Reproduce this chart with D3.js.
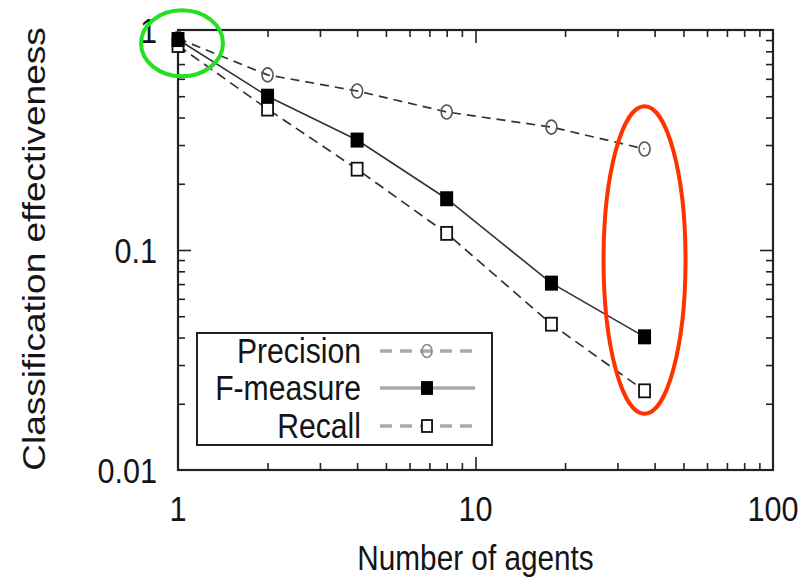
<!DOCTYPE html>
<html><head><meta charset="utf-8">
<script src="https://cdn.jsdelivr.net/npm/d3@7"></script>
<style>html,body{margin:0;padding:0;background:#fff;}svg{display:block;}</style>
</head><body>
<svg id="c" width="805" height="585"></svg>
<script>
const agents = [1, 2, 4, 8, 18, 37];
const precision = [0.915, 0.625, 0.528, 0.424, 0.362, 0.288];
const fmeasure = [0.905, 0.50, 0.316, 0.171, 0.0707, 0.0403];
const recall = [0.85, 0.437, 0.233, 0.119, 0.046, 0.0229];
const seriesNames = ["Precision", "F-measure", "Recall"];
const xTickValues = [1, 10, 100];
const xTickLabels = ["1", "10", "100"];
const yTickValues = [0.01, 0.1, 1];
const yTickLabels = ["0.01", "0.1", "1"];
const xTitle = "Number of agents";
const yTitle = "Classification effectiveness";

const svg = d3.select("#c");
const L = 178, R = 773, T = 30, B = 470;
const x = d3.scaleLog().domain([1, 100]).range([L, R]);
const y = d3.scaleLog().domain([0.01, 1]).range([B, T]);
const SX = 0.85, FONT = "Liberation Sans, Arial, Helvetica, sans-serif";

function txt(g, px, py, s, size, anchor, rot) {
  return g.append("text")
    .attr("transform", `translate(${px},${py})` + (rot ? ` rotate(${rot})` : "") + (rot ? ` scale(1,${SX})` : ` scale(${SX},1)`))
    .attr("text-anchor", anchor).attr("font-family", FONT).attr("font-size", size)
    .attr("fill", "#151515").text(s);
}

// ticks
const xMinor = x.ticks().filter(v => !xTickValues.includes(v));
const yMinor = y.ticks().filter(v => !yTickValues.includes(v));
const xMajorIn = xTickValues.filter(v => v > 1 && v < 100);
const yMajorIn = yTickValues.filter(v => v > 0.01 && v < 1);
function ax(gen, scale, vals, size, tr) {
  const g = svg.append("g").attr("transform", tr)
    .call(gen(scale).tickValues(vals).tickSize(-size).tickSizeOuter(0).tickFormat(""));
  g.select(".domain").remove();
  g.selectAll("line").attr("stroke", "#222").attr("stroke-width", 1.6);
}
ax(d3.axisBottom, x, xMinor, 7, `translate(0,${B})`);
ax(d3.axisBottom, x, xMajorIn, 13, `translate(0,${B})`);
ax(d3.axisTop, x, xMinor, 7, `translate(0,${T})`);
ax(d3.axisTop, x, xMajorIn, 13, `translate(0,${T})`);
ax(d3.axisLeft, y, yMinor, 7, `translate(${L},0)`);
ax(d3.axisLeft, y, yMajorIn, 13, `translate(${L},0)`);
ax(d3.axisRight, y, yMinor, 7, `translate(${R},0)`);
ax(d3.axisRight, y, yMajorIn, 13, `translate(${R},0)`);

// frame
svg.append("rect").attr("x", L).attr("y", T).attr("width", R - L).attr("height", B - T)
  .attr("fill", "none").attr("stroke", "#222").attr("stroke-width", 2.2);

// tick labels
xTickValues.forEach((v, i) => txt(svg, x(v), 521, xTickLabels[i], 36, "middle"));
yTickValues.forEach((v, i) => txt(svg, 157, y(v) + 13, yTickLabels[i], 36, "end"));

// titles
txt(svg, (L + R) / 2, 570, xTitle, 35, "middle");
txt(svg, 45, 249, yTitle, 37, "middle", -90);

// series
const data = [precision, fmeasure, recall];
const lineStyles = [
  { dash: "9,6", color: "#333", w: 1.7 },
  { dash: null, color: "#333", w: 1.6 },
  { dash: "10,6", color: "#333", w: 1.7 }
];
const line = d3.line().x(d => x(d[0])).y(d => y(d[1]));
data.forEach((vals, i) => {
  const pts = agents.map((a, j) => [a, vals[j]]);
  svg.append("path").attr("d", line(pts)).attr("fill", "none")
    .attr("stroke", lineStyles[i].color).attr("stroke-width", lineStyles[i].w)
    .attr("stroke-dasharray", lineStyles[i].dash);
});
function marker(g, kind, cx, cy, big) {
  const k = big ? 1 : 0.92;
  if (kind === 0) {
    g.append("ellipse").attr("cx", cx).attr("cy", cy).attr("rx", 5.5 * k).attr("ry", 7 * k)
      .attr("fill", "none").attr("stroke", big ? "#555" : "#888").attr("stroke-width", 1.6);
  } else if (kind === 1) {
    g.append("rect").attr("x", cx - 6.5 * k).attr("y", cy - 7.5 * k).attr("width", 13 * k).attr("height", 15 * k)
      .attr("fill", "#000");
  } else {
    g.append("rect").attr("x", cx - 5.5 * k).attr("y", cy - 6.5 * k).attr("width", 11 * k).attr("height", 13 * k)
      .attr("fill", "#fff").attr("stroke", "#111").attr("stroke-width", 1.8);
  }
}
[0, 2, 1].forEach(i => {
  agents.forEach((a, j) => marker(svg, i, x(a), y(data[i][j]), true));
});

// legend
const lg = svg.append("g");
lg.append("rect").attr("x", 197).attr("y", 333).attr("width", 295).attr("height", 112)
  .attr("fill", "#fff").attr("stroke", "#222").attr("stroke-width", 2);
const rowY = [351, 388, 426];
const legDash = ["12,8", null, "12,8"];
seriesNames.forEach((n, i) => {
  txt(lg, 361, rowY[i] + 12, n, 35.5, "end");
  lg.append("line").attr("x1", 380).attr("x2", 475).attr("y1", rowY[i]).attr("y2", rowY[i])
    .attr("stroke", "#aaa").attr("stroke-width", 3.5).attr("stroke-dasharray", legDash[i]);
  marker(lg, i, 427, rowY[i], false);
});

// annotation ellipses
svg.append("ellipse").attr("cx", x(1) + 4).attr("cy", y(0.87)).attr("rx", 41).attr("ry", 33)
  .attr("fill", "none").attr("stroke", "#22e022").attr("stroke-width", 4);
svg.append("ellipse").attr("cx", x(37)).attr("cy", (y(0.45) + y(0.018)) / 2).attr("rx", 41)
  .attr("ry", (y(0.018) - y(0.45)) / 2)
  .attr("fill", "none").attr("stroke", "#ff3300").attr("stroke-width", 4);
</script>
</body></html>
